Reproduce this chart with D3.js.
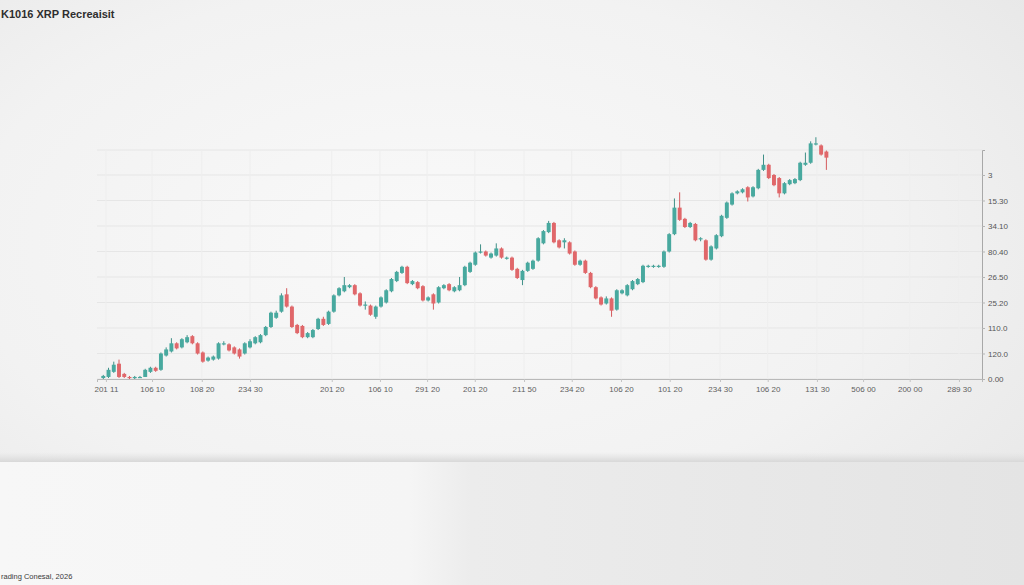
<!DOCTYPE html>
<html>
<head>
<meta charset="utf-8">
<script src="https://cdn.jsdelivr.net/npm/d3@7"></script>
<style>
  html, body { margin: 0; padding: 0; background: #f1f1f1; }
  svg { display: block; }
</style>
</head>
<body>
<svg id="chart" width="1024" height="585"></svg>
<script>
// ---- data ----
const openVals = [
 0.01,0.02,0.07,0.15,0.05,0.02,0.01,0.01,0.02,0.07,
 0.11,0.09,0.23,0.27,0.35,0.31,0.36,0.42,0.35,0.26,
 0.18,0.19,0.20,0.34,0.34,0.31,0.29,0.25,0.31,0.35,
 0.36,0.43,0.51,0.60,0.66,0.83,0.71,0.53,0.52,0.41,
 0.41,0.49,0.59,0.54,0.66,0.82,0.86,0.90,0.92,0.84,
 0.72,0.72,0.61,0.71,0.75,0.86,0.96,1.04,1.10,0.93,
 0.95,0.91,0.77,0.83,0.75,0.89,0.93,0.86,0.87,0.92,
 1.05,1.12,1.24,1.25,1.19,1.21,1.28,1.18,1.19,1.08,
 0.97,1.06,1.08,1.16,1.33,1.44,1.53,1.36,1.34,1.34,
 1.25,1.12,1.16,1.04,0.90,0.80,0.74,0.79,0.68,0.84,
 0.82,0.88,0.93,0.95,1.10,1.10,1.10,1.10,1.25,1.42,
 1.68,1.57,1.49,1.52,1.37,1.36,1.17,1.28,1.40,1.58,
 1.71,1.82,1.83,1.88,1.79,1.87,2.05,2.10,2.00,1.97,
 1.82,1.91,1.92,1.95,2.10,2.12,2.30,2.29,2.23
];
const highVals = [
 0.04,0.11,0.17,0.19,0.06,0.03,0.03,0.03,0.10,0.12,
 0.12,0.26,0.31,0.40,0.36,0.40,0.43,0.43,0.36,0.27,
 0.22,0.23,0.36,0.37,0.35,0.32,0.30,0.36,0.39,0.42,
 0.44,0.52,0.66,0.67,0.84,0.89,0.72,0.54,0.53,0.46,
 0.49,0.60,0.61,0.67,0.83,0.90,1.00,0.93,0.93,0.85,
 0.76,0.73,0.72,0.81,0.88,0.99,1.06,1.11,1.11,0.97,
 0.96,0.92,0.81,0.84,0.91,0.93,0.94,0.91,1.00,1.11,
 1.15,1.25,1.32,1.26,1.24,1.33,1.29,1.20,1.20,1.09,
 1.07,1.15,1.17,1.39,1.46,1.55,1.54,1.37,1.38,1.35,
 1.26,1.17,1.17,1.05,0.91,0.81,0.81,0.80,0.88,0.88,
 0.93,0.97,0.99,1.12,1.12,1.12,1.12,1.26,1.43,1.77,
 1.83,1.58,1.54,1.53,1.39,1.37,1.31,1.42,1.61,1.74,
 1.83,1.85,1.87,1.89,1.89,2.06,2.20,2.11,2.01,1.98,
 1.93,1.96,1.97,2.13,2.22,2.33,2.37,2.30,2.24
];
const lowVals = [
 0.00,0.01,0.06,0.01,0.01,0.00,0.00,0.01,0.02,0.06,
 0.07,0.08,0.22,0.26,0.29,0.30,0.35,0.34,0.24,0.16,
 0.17,0.18,0.19,0.33,0.27,0.24,0.20,0.24,0.30,0.34,
 0.35,0.42,0.50,0.59,0.65,0.70,0.50,0.44,0.40,0.40,
 0.40,0.48,0.52,0.53,0.65,0.81,0.85,0.89,0.82,0.71,
 0.68,0.62,0.59,0.70,0.74,0.85,0.95,1.03,0.93,0.92,
 0.88,0.76,0.76,0.68,0.74,0.88,0.86,0.85,0.86,0.91,
 1.04,1.11,1.23,1.20,1.18,1.20,1.18,1.17,1.06,0.98,
 0.92,1.05,1.07,1.15,1.32,1.43,1.33,1.28,1.28,1.22,
 1.11,1.11,1.03,0.89,0.78,0.72,0.73,0.61,0.67,0.83,
 0.81,0.87,0.92,0.94,1.09,1.09,1.09,1.09,1.24,1.41,
 1.55,1.48,1.48,1.35,1.35,1.16,1.16,1.27,1.39,1.57,
 1.70,1.81,1.82,1.74,1.78,1.86,2.04,1.96,1.89,1.78,
 1.81,1.90,1.91,1.94,2.09,2.11,2.29,2.19,2.05
];
const closeVals = [
 0.03,0.09,0.14,0.02,0.02,0.01,0.02,0.02,0.09,0.11,
 0.08,0.25,0.29,0.35,0.30,0.39,0.41,0.35,0.25,0.17,
 0.21,0.22,0.35,0.35,0.28,0.25,0.22,0.35,0.37,0.41,
 0.43,0.51,0.65,0.65,0.82,0.71,0.51,0.45,0.41,0.45,
 0.48,0.59,0.53,0.66,0.82,0.89,0.92,0.92,0.83,0.72,
 0.73,0.63,0.71,0.80,0.87,0.98,1.05,1.10,0.94,0.96,
 0.89,0.77,0.80,0.74,0.90,0.92,0.87,0.90,0.92,1.10,
 1.14,1.24,1.25,1.21,1.23,1.28,1.19,1.19,1.07,0.99,
 1.06,1.14,1.16,1.38,1.45,1.53,1.34,1.29,1.36,1.23,
 1.12,1.16,1.04,0.90,0.79,0.73,0.79,0.67,0.87,0.87,
 0.92,0.96,0.98,1.11,1.11,1.11,1.11,1.25,1.42,1.68,
 1.56,1.49,1.53,1.36,1.38,1.17,1.30,1.41,1.60,1.73,
 1.82,1.84,1.86,1.78,1.88,2.05,2.10,1.97,1.90,1.82,
 1.92,1.95,1.96,2.12,2.12,2.31,2.31,2.20,2.17
];
// x-axis tick positions (in candle-period units) and their labels
const xTickPos = [0.5, 9.3, 18.8, 28, 43.6, 52.8, 61.8, 70.9, 80.3, 89.4, 98.8, 108.1, 117.7, 126.8, 136.2, 145, 153.9, 163.3];
const xTickLabels = ["201 11","106 10","108 20","234 30","201 20","106 10","291 20","201 20","211 50","234 20","106 20","101 20","234 30","106 20","131 30","506 00","200 00","289 30"];
// y-axis tick values and labels
const yTickVals = [0, 0.25, 0.5, 0.75, 1.0, 1.25, 1.5, 1.75, 2.0];
const yTickLabels = ["0.00","120.0","110.0","25.20","26.50","80.40","34.10","15.30","3"];
const titleText = "K1016 XRP Recreaisit";
const footerText = "rading Conesal, 2026";

// ---- layout ----
const W = 1024, H = 585;
const plot = { left: 97, right: 982, top: 150, bottom: 379 };
const svg = d3.select("#chart");
const defs = svg.append("defs");

// background
const wall = defs.append("radialGradient").attr("id","wall")
  .attr("cx","0.42").attr("cy","0.42").attr("r","0.75");
wall.append("stop").attr("offset","0").attr("stop-color","#f9f9f9");
wall.append("stop").attr("offset","0.6").attr("stop-color","#f2f2f2");
wall.append("stop").attr("offset","1").attr("stop-color","#e7e7e7");
svg.append("rect").attr("width",W).attr("height",H).attr("fill","url(#wall)");

const floor = defs.append("linearGradient").attr("id","floor")
  .attr("x1","0").attr("y1","0").attr("x2","1").attr("y2","0");
floor.append("stop").attr("offset","0").attr("stop-color","#f7f7f7");
floor.append("stop").attr("offset","0.4").attr("stop-color","#f5f5f5");
floor.append("stop").attr("offset","0.46").attr("stop-color","#ececec");
floor.append("stop").attr("offset","1").attr("stop-color","#e4e4e4");
svg.append("rect").attr("x",0).attr("y",462).attr("width",W).attr("height",H-462).attr("fill","url(#floor)");
const edge = defs.append("linearGradient").attr("id","edge").attr("x1","0").attr("y1","0").attr("x2","0").attr("y2","1");
edge.append("stop").attr("offset","0").attr("stop-color","#e2e2e2").attr("stop-opacity",0);
edge.append("stop").attr("offset","0.7").attr("stop-color","#dddddd").attr("stop-opacity",0.8);
edge.append("stop").attr("offset","1").attr("stop-color","#d8d8d8").attr("stop-opacity",1);
svg.append("rect").attr("x",0).attr("y",452).attr("width",W).attr("height",10).attr("fill","url(#edge)");

// ---- scales ----
const x = d3.scaleLinear().domain([-1.2, 167.7]).range([plot.left, plot.right]);
const y = d3.scaleLinear().domain([0, 2.245]).range([plot.bottom, plot.top]);
const step = x(1) - x(0);
const bodyW = step * 0.75;

// gridlines
const grid = svg.append("g");
grid.selectAll("line.h").data(yTickVals.concat([2.245])).join("line")
  .attr("x1", plot.left).attr("x2", plot.right)
  .attr("y1", d => y(d)).attr("y2", d => y(d))
  .attr("stroke", "#e6e6e6").attr("stroke-width", 1);
grid.selectAll("line.v").data(xTickPos).join("line")
  .attr("x1", d => x(d)).attr("x2", d => x(d))
  .attr("y1", plot.top).attr("y2", plot.bottom)
  .attr("stroke", "#eeeeee").attr("stroke-width", 1);

// axes
const xAxis = d3.axisBottom(x).tickValues(xTickPos)
  .tickFormat((d,i) => xTickLabels[i]).tickSize(3).tickPadding(4);
const gx = svg.append("g").attr("transform", `translate(0,${plot.bottom})`).call(xAxis);
gx.select(".domain").attr("stroke","#b9b9b9");
gx.selectAll(".tick line").attr("stroke","#c4c4c4");
gx.selectAll(".tick text").attr("fill","#5e5e5e").attr("font-size","8px")
  .attr("font-family","Liberation Sans, Arial, sans-serif");

const yAxis = d3.axisRight(y).tickValues(yTickVals)
  .tickFormat((d,i) => yTickLabels[i]).tickSize(3).tickPadding(3);
const gy = svg.append("g").attr("transform", `translate(${plot.right},0)`).call(yAxis);
gy.select(".domain").attr("stroke","#a8a8a8");
gy.selectAll(".tick line").attr("stroke","#b5b5b5");
gy.selectAll(".tick text").attr("fill","#555").attr("font-size","8px")
  .attr("font-family","Liberation Sans, Arial, sans-serif");

// candles
const candles = openVals.map((o,i) => ({ i, o, h: highVals[i], l: lowVals[i], c: closeVals[i] }));
const up = "#48a99f", down = "#e0676a";
const cg = svg.append("g");
cg.selectAll("line.wick").data(candles).join("line")
  .attr("x1", d => x(d.i)).attr("x2", d => x(d.i))
  .attr("y1", d => y(d.h)).attr("y2", d => y(d.l))
  .attr("stroke", d => d.c >= d.o ? "#3f8f87" : "#d45a5d").attr("stroke-width", 1);
cg.selectAll("rect.body").data(candles).join("rect")
  .attr("x", d => x(d.i) - bodyW/2)
  .attr("width", bodyW)
  .attr("y", d => y(Math.max(d.o, d.c)))
  .attr("height", d => Math.max(1.2, Math.abs(y(d.o) - y(d.c))))
  .attr("fill", d => d.c >= d.o ? up : down);

// title & footer
svg.append("text").attr("x", 1).attr("y", 18).text(titleText)
  .attr("font-family","Liberation Sans, Arial, sans-serif").attr("font-weight","bold")
  .attr("font-size","11px").attr("fill","#2e2e2e");
svg.append("text").attr("x", 1).attr("y", 579).text(footerText)
  .attr("font-family","Liberation Sans, Arial, sans-serif")
  .attr("font-size","7.5px").attr("fill","#3a3a3a");
</script>
</body>
</html>
